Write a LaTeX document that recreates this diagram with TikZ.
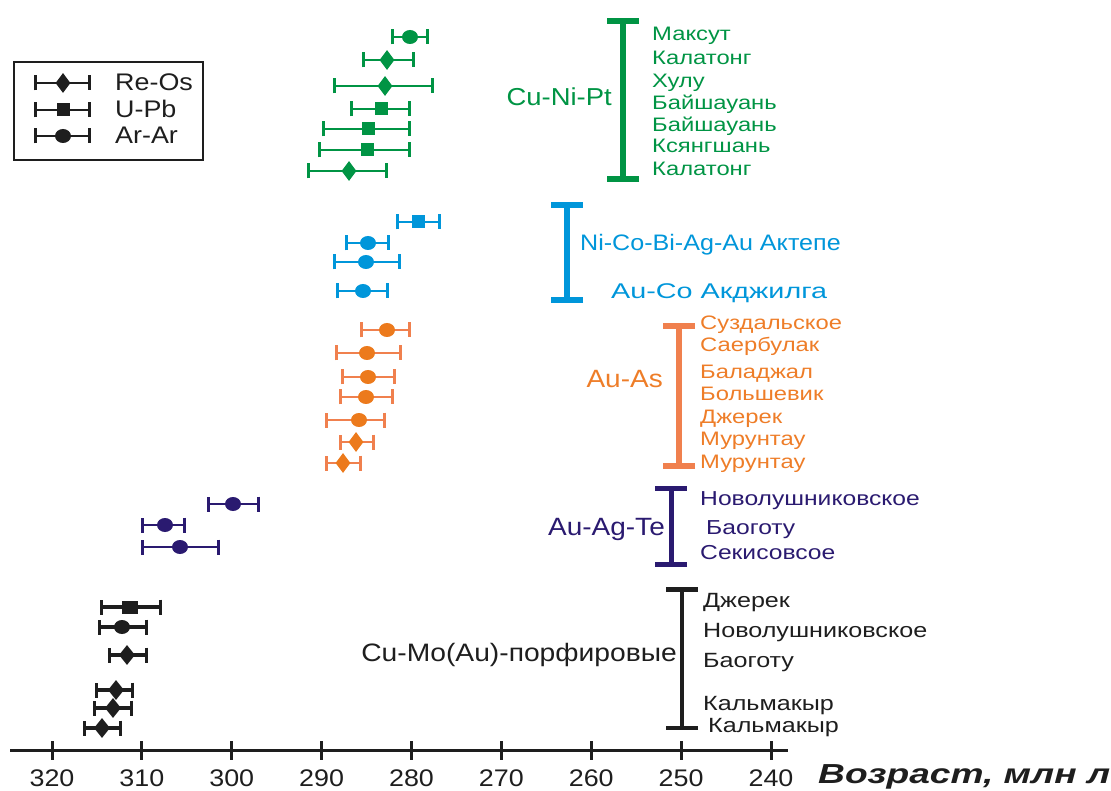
\documentclass[tikz,border=0pt]{standalone}
\usepackage{fontspec}
\setmainfont{Liberation Sans}[FakeStretch=1.12]
\newfontfamily\namefont{Liberation Sans}[FakeStretch=1.22]
\newfontfamily\widefont{Liberation Sans}[FakeStretch=1.35]
\usetikzlibrary{shapes.geometric,arrows.meta}

\definecolor{grn}{RGB}{0,148,68}
\definecolor{blu}{RGB}{0,150,218}
\definecolor{ornbar}{RGB}{240,128,78}
\definecolor{ornmk}{RGB}{236,122,28}
\definecolor{orntxt}{RGB}{238,125,40}
\definecolor{ind}{RGB}{42,26,112}
\definecolor{blk}{RGB}{30,30,30}

\tikzset{
  errbar/.style={{Bar[width=15pt]}-{Bar[width=15pt]}, line width=2.8pt},
  bracket/.style={{Bar[width=32pt]}-{Bar[width=32pt]}, line width=6pt},
  mkdot/.style={ellipse, inner sep=0pt, minimum width=16pt, minimum height=14pt},
  mksq/.style={rectangle, inner sep=0pt, minimum size=13pt},
  mkdia/.style={diamond, inner sep=0pt, minimum width=15pt, minimum height=20pt},
  site/.style={anchor=base west, inner sep=0pt, font=\namefont\fontsize{19.5}{22}\selectfont},
  group/.style={anchor=base east, inner sep=0pt, font=\fontsize{25}{28}\selectfont},
}

\begin{document}
\begin{tikzpicture}[x=1pt,y=-1pt]
\useasboundingbox (0,0) rectangle (1111,791);

% axis
\draw[blk, line width=3pt] (10,750) -- (788,750);
\foreach \a [evaluate=\a as \px using {52+(320-\a)*8.9875}] in {320,310,...,240} {
  \draw[blk, line width=3pt] (\px,741) -- (\px,760);
  \node[blk, inner sep=0pt, anchor=base, font=\fontsize{24}{28}\selectfont] (t\a) at (\px,786) {\a};
}
\node[blk, inner sep=0pt, anchor=base west, font=\widefont\bfseries\itshape\fontsize{27.5}{30}\selectfont] (title) at (818,783) {Возраст, млн л};

% legend
\draw[blk, line width=2.5pt] (14,62) rectangle (203,160);
\foreach \y/\m/\t [count=\i] in {83/mkdia/Re-Os, 110/mksq/U-Pb, 136/mkdot/Ar-Ar} {
  \draw[errbar, blk] (34,\y) -- (91,\y);
  \node[\m, fill=blk] (lm\i) at (63,\y) {};
  \node[blk, inner sep=0pt, anchor=base west, font=\fontsize{24}{26}\selectfont] (lt\i) at (115,\y+8) {\t};
}

% Cu-Ni-Pt
\foreach \x/\lo/\hi/\y/\m [count=\i] in {410/391/429/37/mkdot, 387/362/415/60/mkdia, 385/333/434/86/mkdia,
    381/350/411/109/mksq, 368/322/411/129/mksq, 367/318/411/150/mksq, 349/307/388/171/mkdia} {
  \draw[errbar, grn] (\lo,\y) -- (\hi,\y);
  \node[\m, fill=grn] (g\i) at (\x,\y) {};
}
\draw[bracket, grn] (623,18) -- (623,182);
\node[group, grn, font=\fontsize{24.5}{28}\selectfont] (cunipt) at (612,106) {Cu-Ni-Pt};
\foreach \t/\y [count=\i] in {Максут/41, Калатонг/65, Хулу/88, Байшауань/110, Байшауань/132, Ксянгшань/153, Калатонг/176}
  \node[site, grn] (gs\i) at (652,\y) {\t};

% Ni-Co-Bi-Ag-Au
\foreach \x/\lo/\hi/\y/\m [count=\i] in {418/396/441/222/mksq, 368/345/390/243/mkdot, 366/333/401/262/mkdot, 363/336/389/291/mkdot} {
  \draw[errbar, blu] (\lo,\y) -- (\hi,\y);
  \node[\m, fill=blu] (b\i) at (\x,\y) {};
}
\draw[bracket, blu] (567,202) -- (567,303);
\node[site, blu, font=\fontsize{22.4}{24}\selectfont] (nicobi) at (580,251) {Ni-Co-Bi-Ag-Au Актепе};
\node[site, blu, font=\widefont\fontsize{21.3}{24}\selectfont] (auco) at (611,299) {Au-Co Акджилга};

% Au-As
\foreach \x/\lo/\hi/\y/\m [count=\i] in {387/360/411/330/mkdot, 367/335/402/353/mkdot, 368/341/396/377/mkdot,
    366/339/394/397/mkdot, 359/325/386/420/mkdot, 356/339/375/442/mkdia, 343/325/362/463/mkdia} {
  \draw[errbar, ornbar] (\lo,\y) -- (\hi,\y);
  \node[\m, fill=ornmk] (o\i) at (\x,\y) {};
}
\draw[bracket, ornbar] (679,323) -- (679,469);
\node[group, orntxt] (auas) at (663,388) {Au-As};
\foreach \t/\y [count=\i] in {Суздальское/330, Саербулак/352, Баладжал/379, Большевик/400, Джерек/423, Мурунтау/445, Мурунтау/468}
  \node[site, orntxt] (os\i) at (700,\y) {\t};

% Au-Ag-Te
\foreach \x/\lo/\hi/\y/\m [count=\i] in {233/207/260/504/mkdot, 165/141/186/525/mkdot, 180/141/220/547/mkdot} {
  \draw[errbar, ind] (\lo,\y) -- (\hi,\y);
  \node[\m, fill=ind] (p\i) at (\x,\y) {};
}
\draw[bracket, ind, line width=5pt] (671,486) -- (671,567);
\node[group, ind] (auagte) at (665,535) {Au-Ag-Te};
\node[site, ind, font=\namefont\fontsize{20.2}{22}\selectfont] (ps1) at (700,505) {Новолушниковское};
\node[site, ind, font=\namefont\fontsize{20.2}{22}\selectfont] (ps2) at (706,534) {Баоготу};
\node[site, ind, font=\namefont\fontsize{20.2}{22}\selectfont] (ps3) at (700,559) {Секисовсое};

% Cu-Mo(Au)
\foreach \x/\lo/\hi/\y/\m [count=\i] in {130/100/162/607/mksq, 122/98/148/627/mkdot, 127/108/148/655/mkdia,
    116/95/134/690/mkdia, 113/93/133/708/mkdia, 102/83/122/728/mkdia} {
  \draw[errbar, blk, line width=3.3pt] (\lo,\y) -- (\hi,\y);
  \node[\m, fill=blk, minimum width=16pt] (k\i) at (\x,\y) {};
}
\draw[bracket, blk, line width=4.5pt] (682,587) -- (682,730);
\node[group, blk, font=\fontsize{25.2}{28}\selectfont] (cumo) at (677,661) {Cu-Mo(Au)-порфировые};
\foreach \t/\x/\y [count=\i] in {Джерек/703/607, Новолушниковское/703/637, Баоготу/703/667, Кальмакыр/703/710, Кальмакыр/708/732}
  \node[site, blk, font=\namefont\fontsize{20.6}{22}\selectfont] (ks\i) at (\x,\y) {\t};

\end{tikzpicture}
\end{document}
